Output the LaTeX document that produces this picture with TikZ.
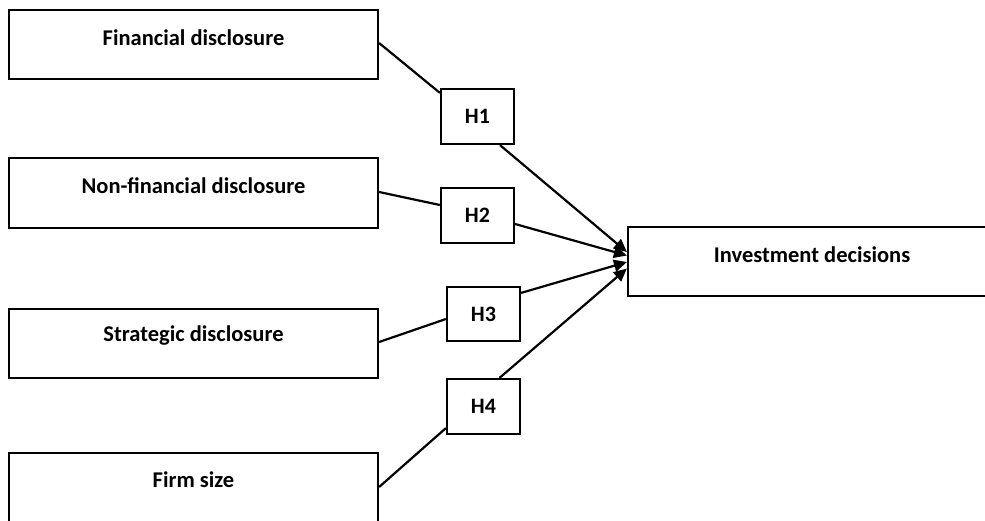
\documentclass[tikz,border=0pt]{standalone}
\usepackage{fontspec}
\setmainfont{Carlito}
\usetikzlibrary{arrows.meta,calc}
\begin{document}
\begin{tikzpicture}[x=1pt,y=-1pt,
  box/.style={draw=black,line width=2.2pt,inner sep=0pt,fill=none},
  lbl/.style={font=\bfseries\fontsize{22.5}{26}\selectfont,inner sep=0pt},
  hlbl/.style={font=\bfseries\fontsize{22}{25}\selectfont,inner sep=0pt},
  conn/.style={line width=2.2pt,draw=black},
  arr/.style={conn,-{Triangle[length=13pt,width=12pt]}}]
\useasboundingbox (0,0) rectangle (985,520);
\begin{scope}
\clip (0,0) rectangle (985,520);
% source boxes
\node[box,minimum width=369pt,minimum height=69pt] (fin) at (193.5,44.5) {};
\node[lbl] (fint) at (193.5,38) {Financial disclosure};
\node[box,minimum width=369pt,minimum height=70pt] (nfin) at (193.5,193) {};
\node[lbl] (nfint) at (193.5,186) {Non-financial disclosure};
\node[box,minimum width=369pt,minimum height=69pt] (str) at (193.5,343.5) {};
\node[lbl] (strt) at (193.5,336) {Strategic disclosure};
\node[box,minimum width=369pt,minimum height=71pt] (firm) at (193.5,488.5) {};
\node[lbl] (firmt) at (193.5,480) {Firm size};
% target box
\node[box,minimum width=362pt,minimum height=69pt] (inv) at (809,261.5) {};
\node[lbl] (invt) at (812,255) {Investment decisions};
% hypothesis boxes
\node[box,minimum width=73pt,minimum height=55pt] (h1) at (477.5,116.5) {};
\node[hlbl] (h1t) at (h1) {H1};
\node[box,minimum width=73pt,minimum height=55pt] (h2) at (477.5,215.5) {};
\node[hlbl] (h2t) at (h2) {H2};
\node[box,minimum width=73pt,minimum height=54pt] (h3) at (483.5,314) {};
\node[hlbl] (h3t) at (h3) {H3};
\node[box,minimum width=73pt,minimum height=55pt] (h4) at (483.5,406.5) {};
\node[hlbl] (h4t) at (h4) {H4};
% connectors into hypothesis boxes
\draw[conn] ($(fin.east)+(0,-1.5)$) -- ($(h1.north west)+(0,5)$);
\draw[conn] ($(nfin.east)+(0,-1)$) -- ($(h2.west)+(0,-10.5)$);
\draw[conn] ($(str.east)+(0,-1.5)$) -- ($(h3.west)+(0,5)$);
\draw[conn] ($(firm.east)+(0,-1.5)$) -- ($(h4.south west)+(0,-7)$);
% arrows into investment decisions
\draw[arr] ($(h1.south)+(22.5,0)$) -- ($(inv.west)+(0,-9.5)$);
\draw[arr] ($(h2.east)+(0,8.5)$) -- ($(inv.west)+(0,-6)$);
\draw[arr] ($(h3.north east)+(0,7)$) -- ($(inv.west)+(0,0.5)$);
\draw[arr] ($(h4.north)+(16,0)$) -- ($(inv.west)+(0,7)$);
\end{scope}
\end{tikzpicture}
\end{document}
